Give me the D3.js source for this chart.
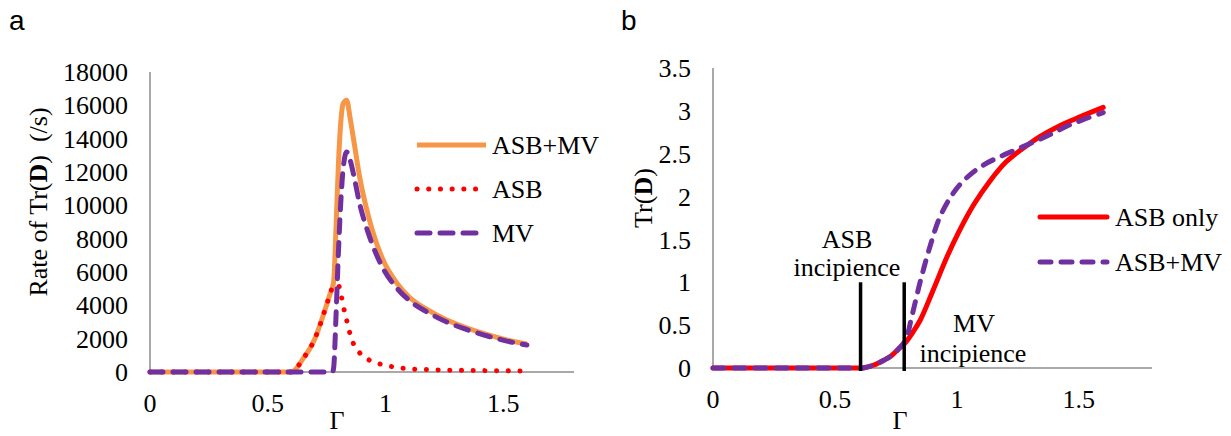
<!DOCTYPE html>
<html><head><meta charset="utf-8">
<script src="https://cdn.jsdelivr.net/npm/d3@7"></script>
<style>
html,body{margin:0;padding:0;background:#fff;}
</style></head>
<body>
<svg id="chart" width="1231" height="436" font-family="Liberation Serif, Times New Roman, serif"></svg>
<script>
// ---------- Panel a data ----------
const gammaA = [0, 0.2, 0.4, 0.6, 0.65, 0.7, 0.74, 0.765, 0.775, 0.78, 0.79, 0.8, 0.81, 0.82, 0.835, 0.85, 0.865, 0.89, 0.93, 0.99, 1.05, 1.1, 1.17, 1.26, 1.34, 1.44, 1.51, 1.6];
const rateAsbMv = [0, 0, 0, 0, 800, 2000, 3600, 4700, 5100, 5450, 8750, 12500, 15000, 16100, 16300, 15200, 13900, 11700, 9200, 6700, 5300, 4500, 3800, 3120, 2670, 2210, 1940, 1680];
const gammaAsb = [0, 0.2, 0.4, 0.6, 0.65, 0.7, 0.74, 0.765, 0.775, 0.78, 0.79, 0.8, 0.81, 0.82, 0.835, 0.85, 0.865, 0.89, 0.93, 0.99, 1.05, 1.1, 1.17, 1.26, 1.34, 1.44, 1.51, 1.58];
const rateAsb = [0, 0, 0, 0, 800, 2000, 3600, 4700, 5100, 5150, 5250, 5200, 4700, 4000, 3100, 2250, 1650, 1150, 720, 430, 270, 190, 145, 115, 95, 80, 70, 60];
const rateMv = [0, 0, 0, 0, 0, 0, 0, 0, 0, 300, 3500, 7200, 10200, 12200, 13200, 12700, 11800, 10100, 8200, 6200, 5000, 4300, 3650, 3000, 2570, 2130, 1870, 1620];
const yTicksA = [0, 2000, 4000, 6000, 8000, 10000, 12000, 14000, 16000, 18000];
const xTicks = [0, 0.5, 1, 1.5];
const xTickLabels = ["0", "0.5", "1", "1.5"];
const legendA = ["ASB+MV", "ASB", "MV"];

// ---------- Panel b data ----------
const gammaAsbOnly = [0, 0.2, 0.4, 0.6, 0.62, 0.66, 0.7, 0.73, 0.76, 0.79, 0.82, 0.85, 0.9, 0.96, 1.01, 1.07, 1.135, 1.2, 1.27, 1.34, 1.41, 1.48, 1.6];
const trAsbOnly = [0, 0, 0, 0, 0.003, 0.035, 0.09, 0.14, 0.22, 0.30, 0.42, 0.56, 0.89, 1.30, 1.60, 1.91, 2.18, 2.40, 2.56, 2.70, 2.81, 2.90, 3.04];
const gammaAsbMvB = [0, 0.2, 0.4, 0.6, 0.62, 0.66, 0.7, 0.73, 0.76, 0.79, 0.815, 0.85, 0.89, 0.93, 0.985, 1.04, 1.11, 1.18, 1.245, 1.31, 1.38, 1.45, 1.52, 1.6];
const trAsbMv = [0, 0, 0, 0, 0.003, 0.035, 0.09, 0.14, 0.22, 0.33, 0.60, 1.01, 1.42, 1.76, 2.04, 2.22, 2.37, 2.47, 2.55, 2.63, 2.72, 2.82, 2.90, 2.98];
const yTicksB = [0, 0.5, 1, 1.5, 2, 2.5, 3, 3.5];
const yTickLabelsB = ["0", "0.5", "1", "1.5", "2", "2.5", "3", "3.5"];
const incipienceGamma = [0.605, 0.784];
const incipienceHeight = [0, 1];
const legendB = ["ASB only", "ASB+MV"];

// ---------- Styling ----------
const ORANGE = "#F79646", RED = "#FF0000", PURPLE = "#7030A0", AXIS = "#8C8C8C";
const FS = 26;
const SANS = "Liberation Sans, Arial, sans-serif";

const svg = d3.select("#chart");

function axes(g, x, y, yTicks, yLabels) {
  g.append("line").attr("x1", x(0)).attr("x2", x(0))
    .attr("y1", y(y.domain()[1])).attr("y2", y(0))
    .attr("stroke", AXIS).attr("stroke-width", 1.5);
  g.selectAll(null).data(yTicks).join("text")
    .attr("x", x(0) - 22).attr("y", d => y(d)).attr("dy", "0.35em")
    .attr("text-anchor", "end").attr("font-size", FS)
    .text((d, i) => yLabels ? yLabels[i] : d);
  g.selectAll(null).data(xTicks).join("text")
    .attr("x", d => x(d)).attr("y", y(0) + 40)
    .attr("text-anchor", "middle").attr("font-size", FS)
    .text((d, i) => xTickLabels[i]);
  g.append("line").attr("x1", x(0)).attr("x2", x(1.8)).attr("y1", y(0)).attr("y2", y(0))
    .attr("stroke", AXIS).attr("stroke-width", 1.5);
}

// ================= Panel a =================
{
  const x = d3.scaleLinear().domain([0, 1.8]).range([150, 574]);
  const y = d3.scaleLinear().domain([0, 18000]).range([372, 72]);
  const g = svg.append("g");

  g.append("text").attr("x", 9).attr("y", 30).attr("font-size", 28)
    .attr("font-family", SANS).text("a");

  axes(g, x, y, yTicksA, null);

  const line = (gs) => d3.line().x((d, i) => x(gs[i])).y(d => y(d)).curve(d3.curveMonotoneX);

  g.append("path").attr("d", line(gammaA)(rateAsbMv)).attr("fill", "none")
    .attr("stroke", ORANGE).attr("stroke-width", 5).attr("stroke-linejoin", "round");
  g.append("path").attr("d", line(gammaAsb)(rateAsb)).attr("fill", "none")
    .attr("stroke", RED).attr("stroke-width", 5).attr("stroke-linecap", "round")
    .attr("stroke-dasharray", "0.1,11.6");
  g.append("path").attr("d", line(gammaA)(rateMv)).attr("fill", "none")
    .attr("stroke", PURPLE).attr("stroke-width", 5).attr("stroke-linecap", "round")
    .attr("stroke-dasharray", "13,10");

  g.append("text").attr("x", 337).attr("y", 429).attr("text-anchor", "middle")
    .attr("font-size", FS).text("Γ");
  const yt = g.append("text").attr("transform", "translate(47,202) rotate(-90)")
    .attr("text-anchor", "middle").attr("font-size", FS)
    .style("white-space", "pre");
  yt.append("tspan").text("Rate of Tr(");
  yt.append("tspan").attr("font-weight", "bold").text("D");
  yt.append("tspan").text(")  (/s)");

  const ly = [145, 189, 233];
  const styles = [
    {c: ORANGE, dash: null, cap: "butt", x2: 486},
    {c: RED, dash: "0.1,11.6", cap: "round", x2: 480},
    {c: PURPLE, dash: "13,10", cap: "round", x2: 482}
  ];
  legendA.forEach((name, i) => {
    const s = styles[i];
    const l = g.append("line").attr("x1", 417).attr("x2", s.x2).attr("y1", ly[i]).attr("y2", ly[i])
      .attr("stroke", s.c).attr("stroke-width", 5).attr("stroke-linecap", s.cap);
    if (s.dash) l.attr("stroke-dasharray", s.dash);
    g.append("text").attr("x", 492).attr("y", ly[i] + 9).attr("font-size", FS).text(name);
  });
}

// ================= Panel b =================
{
  const x = d3.scaleLinear().domain([0, 1.8]).range([713, 1152]);
  const y = d3.scaleLinear().domain([0, 3.5]).range([368, 68]);
  const g = svg.append("g");

  g.append("text").attr("x", 621).attr("y", 30).attr("font-size", 28)
    .attr("font-family", SANS).text("b");

  axes(g, x, y, yTicksB, yTickLabelsB);

  const line = (gs) => d3.line().x((d, i) => x(gs[i])).y(d => y(d)).curve(d3.curveCatmullRom.alpha(0.5));

  g.append("path").attr("d", line(gammaAsbOnly)(trAsbOnly)).attr("fill", "none")
    .attr("stroke", RED).attr("stroke-width", 5).attr("stroke-linecap", "round");
  g.append("path").attr("d", line(gammaAsbMvB)(trAsbMv)).attr("fill", "none")
    .attr("stroke", PURPLE).attr("stroke-width", 5).attr("stroke-linecap", "round")
    .attr("stroke-dasharray", "11,10");

  incipienceGamma.forEach(gm => {
    g.append("line").attr("x1", x(gm)).attr("x2", x(gm))
      .attr("y1", y(incipienceHeight[0]) + 3).attr("y2", y(incipienceHeight[1]))
      .attr("stroke", "#000").attr("stroke-width", 3.5);
  });
  g.append("text").attr("x", 847).attr("y", 248).attr("text-anchor", "middle").attr("font-size", FS).text("ASB");
  g.append("text").attr("x", 847).attr("y", 276).attr("text-anchor", "middle").attr("font-size", FS).text("incipience");
  g.append("text").attr("x", 974).attr("y", 332).attr("text-anchor", "middle").attr("font-size", FS).text("MV");
  g.append("text").attr("x", 973).attr("y", 362).attr("text-anchor", "middle").attr("font-size", FS).text("incipience");

  g.append("text").attr("x", 900).attr("y", 429).attr("text-anchor", "middle")
    .attr("font-size", FS).text("Γ");
  const yt = g.append("text").attr("transform", "translate(652,198) rotate(-90)")
    .attr("text-anchor", "middle").attr("font-size", FS);
  yt.append("tspan").text("Tr(");
  yt.append("tspan").attr("font-weight", "bold").text("D");
  yt.append("tspan").text(")");

  const ly = [217, 262];
  g.append("line").attr("x1", 1040).attr("x2", 1107).attr("y1", ly[0]).attr("y2", ly[0])
    .attr("stroke", RED).attr("stroke-width", 5).attr("stroke-linecap", "round");
  g.append("line").attr("x1", 1040).attr("x2", 1107).attr("y1", ly[1]).attr("y2", ly[1])
    .attr("stroke", PURPLE).attr("stroke-width", 5).attr("stroke-linecap", "round")
    .attr("stroke-dasharray", "11,10");
  legendB.forEach((name, i) => {
    g.append("text").attr("x", 1115).attr("y", ly[i] + 9).attr("font-size", FS).text(name);
  });
}
</script>
</body></html>
